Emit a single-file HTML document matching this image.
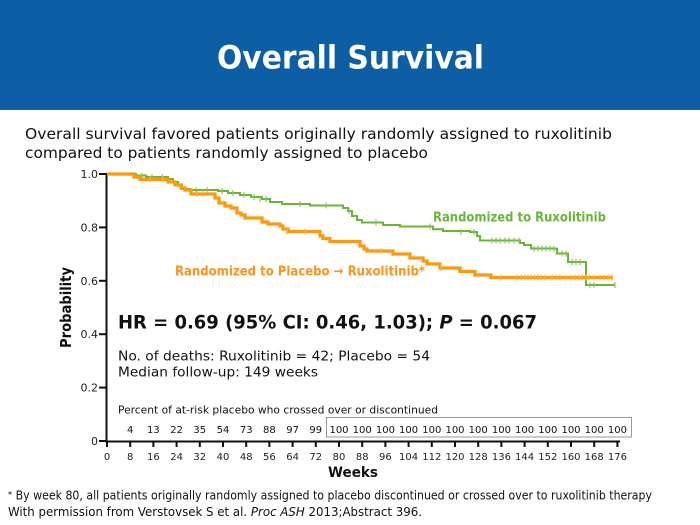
<!DOCTYPE html>
<html>
<head>
<meta charset="utf-8">
<style>
  html, body { margin: 0; padding: 0; background: #fff; }
  body { width: 700px; height: 525px; overflow: hidden; }
  svg { display: block; }
  .sans { font-family: "DejaVu Sans", "Liberation Sans", sans-serif; }
</style>
</head>
<body>
<svg width="700" height="525" viewBox="0 0 700 525" xmlns="http://www.w3.org/2000/svg" class="sans">
  <!-- Header -->
  <rect x="0" y="0" width="700" height="110" fill="#0e5ea5"/>
  <text x="217" y="68.5" font-size="32" font-weight="bold" fill="#fff" textLength="267" lengthAdjust="spacingAndGlyphs">Overall Survival</text>

  <!-- Subtitle -->
  <text x="25" y="139" font-size="15" fill="#111" textLength="587" lengthAdjust="spacingAndGlyphs">Overall survival favored patients originally randomly assigned to ruxolitinib</text>
  <text x="25" y="158" font-size="15" fill="#111" textLength="403" lengthAdjust="spacingAndGlyphs">compared to patients randomly assigned to placebo</text>

  <!-- Y axis label -->
  <text transform="translate(71,307.5) rotate(-90)" text-anchor="middle" font-size="15" font-weight="bold" fill="#111" textLength="81" lengthAdjust="spacingAndGlyphs">Probability</text>

  <!-- Y tick labels -->
  <g font-size="11" fill="#222" text-anchor="end">
    <text x="98" y="178">1.0</text>
    <text x="98" y="231.4">0.8</text>
    <text x="98" y="284.8">0.6</text>
    <text x="98" y="338.2">0.4</text>
    <text x="98" y="391.6">0.2</text>
    <text x="98" y="445">0</text>
  </g>
  <g stroke="#111" stroke-width="2">
    <line x1="99" y1="174" x2="106" y2="174"/>
    <line x1="99" y1="227.4" x2="106" y2="227.4"/>
    <line x1="99" y1="280.8" x2="106" y2="280.8"/>
    <line x1="99" y1="334.2" x2="106" y2="334.2"/>
    <line x1="99" y1="387.6" x2="106" y2="387.6"/>
    <line x1="99" y1="441" x2="106" y2="441"/>
  </g>

  <!-- Axes -->
  <line x1="106.5" y1="173" x2="106.5" y2="442" stroke="#111" stroke-width="2"/>
  <line x1="105.5" y1="441.5" x2="620" y2="441.5" stroke="#111" stroke-width="2"/>
  <g stroke="#111" stroke-width="2">
    <line x1="107" y1="441" x2="107" y2="447"/>
    <line x1="130.2" y1="441" x2="130.2" y2="447"/>
    <line x1="153.4" y1="441" x2="153.4" y2="447"/>
    <line x1="176.6" y1="441" x2="176.6" y2="447"/>
    <line x1="199.8" y1="441" x2="199.8" y2="447"/>
    <line x1="223" y1="441" x2="223" y2="447"/>
    <line x1="246.2" y1="441" x2="246.2" y2="447"/>
    <line x1="269.4" y1="441" x2="269.4" y2="447"/>
    <line x1="292.6" y1="441" x2="292.6" y2="447"/>
    <line x1="315.8" y1="441" x2="315.8" y2="447"/>
    <line x1="339" y1="441" x2="339" y2="447"/>
    <line x1="362.2" y1="441" x2="362.2" y2="447"/>
    <line x1="385.4" y1="441" x2="385.4" y2="447"/>
    <line x1="408.6" y1="441" x2="408.6" y2="447"/>
    <line x1="431.8" y1="441" x2="431.8" y2="447"/>
    <line x1="455" y1="441" x2="455" y2="447"/>
    <line x1="478.2" y1="441" x2="478.2" y2="447"/>
    <line x1="501.4" y1="441" x2="501.4" y2="447"/>
    <line x1="524.6" y1="441" x2="524.6" y2="447"/>
    <line x1="547.8" y1="441" x2="547.8" y2="447"/>
    <line x1="571" y1="441" x2="571" y2="447"/>
    <line x1="594.2" y1="441" x2="594.2" y2="447"/>
    <line x1="617.4" y1="441" x2="617.4" y2="447"/>
  </g>
  <!-- X tick labels -->
  <g font-size="10" fill="#222" text-anchor="middle">
    <text x="107" y="460">0</text>
    <text x="130.2" y="460">8</text>
    <text x="153.4" y="460">16</text>
    <text x="176.6" y="460">24</text>
    <text x="199.8" y="460">32</text>
    <text x="223" y="460">40</text>
    <text x="246.2" y="460">48</text>
    <text x="269.4" y="460">56</text>
    <text x="292.6" y="460">64</text>
    <text x="315.8" y="460">72</text>
    <text x="339" y="460">80</text>
    <text x="362.2" y="460">88</text>
    <text x="385.4" y="460">96</text>
    <text x="408.6" y="460">104</text>
    <text x="431.8" y="460">112</text>
    <text x="455" y="460">120</text>
    <text x="478.2" y="460">128</text>
    <text x="501.4" y="460">136</text>
    <text x="524.6" y="460">144</text>
    <text x="547.8" y="460">152</text>
    <text x="571" y="460">160</text>
    <text x="594.2" y="460">168</text>
    <text x="617.4" y="460">176</text>
  </g>
  <text x="353" y="477" text-anchor="middle" font-size="14" font-weight="bold" fill="#111" textLength="50" lengthAdjust="spacingAndGlyphs">Weeks</text>

  <!-- Curves -->
  <path d="M107,174 H136 V175.5 H146 V177 H168 V179 H173 V182 H178 V185 H182 V189 H190 V190 H218 V191 H228 V193 H240 V195 H251 V197 H262 V199 H270 V202 H282 V204 H310 V205.5 H343 V208 H348 V211 H352 V216 H357 V220 H362 V222.5 H383 V225 H400 V226.5 H433 V229.3 H443 V231 H470 V232 H477 V236 H480 V240.5 H520 V243 H524 V245 H531 V248.5 H557 V253.5 H568 V262 H586 V285 H615"
        fill="none" stroke="#6cb33a" stroke-width="2"/>
  <g stroke="#8cc65e" stroke-width="1.2">
    <path d="M142,172.5v6 M152,174v6 M162,174v6 M196,187v6 M207,187v6 M222,188v6 M233,190v6 M244,192v6 M254,194v6 M260,196v6 M266,196v6 M300,201v6 M326,202.5v6 M349,208v6 M376,219.5v6 M430,223.5v6 M461,229v6 M474,229v6 M492,237.5v6 M496,237.5v6 M500,237.5v6 M505,237.5v6 M509,237.5v6 M514,237.5v6 M519,237.5v6 M534,245.5v6 M538,245.5v6 M542,245.5v6 M546,245.5v6 M550,245.5v6 M554,245.5v6 M562,250.5v6 M566,250.5v6 M572,259v6 M576,259v6 M580,259v6 M590,282v6 M594,282v6 M615,282v6"/>
  </g>
  <path d="M107,174 H134 V177 H140 V179.3 H168 V182 H175 V185 H181 V188 H185 V190 H191 V194 H215 V198 H219 V203 H225 V206 H231 V208 H237 V213 H241 V215 H245 V218 H262 V222 H268 V224 H280 V226 H283 V229 H288 V231.5 H320 V236 H323 V238.5 H330 V241.5 H360 V246 H364 V249 H367 V251 H393 V254 H410 V258 H423 V261 H427 V264 H440 V268 H460 V271.5 H475 V275 H491 V277.5 H613"
        fill="none" stroke="#fb9a12" stroke-width="3.3"/>
  <g stroke="#fdb14a" stroke-width="1.2">
    <path d="M150,176.3v6 M163,176.3v6 M197,191v6 M203,191v6 M287,228.5v6 M305,228.5v6 M381,248v6 M441,265v6 M501,274.5v6 M517,274.5v6 M521,274.5v6 M525,274.5v6 M528,274.5v6 M531,274.5v6 M535,274.5v6 M538,274.5v6 M541,274.5v6 M545,274.5v6 M552,274.5v6 M557,274.5v6 M560,274.5v6 M566,274.5v6 M571,274.5v6 M575,274.5v6 M579,274.5v6 M582,274.5v6 M586,274.5v6 M589,274.5v6 M594,274.5v6 M600,274.5v6 M604,274.5v6 M608,274.5v6 M612,274.5v6"/>
  </g>

  <!-- Curve labels -->
  <text x="433" y="221.5" font-size="13" font-weight="bold" fill="#6cb33a" textLength="173" lengthAdjust="spacingAndGlyphs">Randomized to Ruxolitinib</text>
  <text x="175" y="275.5" font-size="13" font-weight="bold" fill="#f7941d" textLength="250" lengthAdjust="spacingAndGlyphs">Randomized to Placebo → Ruxolitinib*</text>

  <!-- Annotations -->
  <text x="118" y="328.5" font-size="19" font-weight="bold" fill="#111" textLength="419" lengthAdjust="spacingAndGlyphs">HR = 0.69 (95% CI: 0.46, 1.03); <tspan font-style="italic">P</tspan> = 0.067</text>
  <text x="118" y="360.5" font-size="13.5" fill="#111" textLength="312" lengthAdjust="spacingAndGlyphs">No. of deaths: Ruxolitinib = 42; Placebo = 54</text>
  <text x="118" y="376.5" font-size="13.5" fill="#111" textLength="200" lengthAdjust="spacingAndGlyphs">Median follow-up: 149 weeks</text>
  <text x="118" y="413.5" font-size="11" fill="#111" textLength="320" lengthAdjust="spacingAndGlyphs">Percent of at-risk placebo who crossed over or discontinued</text>

  <!-- At-risk row -->
  <rect x="326.5" y="417.5" width="305" height="19.5" fill="none" stroke="#999" stroke-width="1"/>
  <g font-size="10" fill="#111" text-anchor="middle">
    <text x="130.2" y="433">4</text>
    <text x="153.4" y="433">13</text>
    <text x="176.6" y="433">22</text>
    <text x="199.8" y="433">35</text>
    <text x="223" y="433">54</text>
    <text x="246.2" y="433">73</text>
    <text x="269.4" y="433">88</text>
    <text x="292.6" y="433">97</text>
    <text x="315.8" y="433">99</text>
    <text x="339" y="433">100</text>
    <text x="362.2" y="433">100</text>
    <text x="385.4" y="433">100</text>
    <text x="408.6" y="433">100</text>
    <text x="431.8" y="433">100</text>
    <text x="455" y="433">100</text>
    <text x="478.2" y="433">100</text>
    <text x="501.4" y="433">100</text>
    <text x="524.6" y="433">100</text>
    <text x="547.8" y="433">100</text>
    <text x="571" y="433">100</text>
    <text x="594.2" y="433">100</text>
    <text x="617.4" y="433">100</text>
  </g>

  <!-- Footnotes -->
  <text x="8" y="499.5" font-size="12" fill="#111" textLength="644" lengthAdjust="spacingAndGlyphs"><tspan font-size="9" dy="-2">*</tspan><tspan dy="2"> By week 80, all patients originally randomly assigned to placebo discontinued or crossed over to ruxolitinib therapy</tspan></text>
  <text x="8" y="516" font-size="12" fill="#111" textLength="414" lengthAdjust="spacingAndGlyphs">With permission from Verstovsek S et al. <tspan font-style="italic">Proc ASH</tspan> 2013;Abstract 396.</text>
</svg>
</body>
</html>
